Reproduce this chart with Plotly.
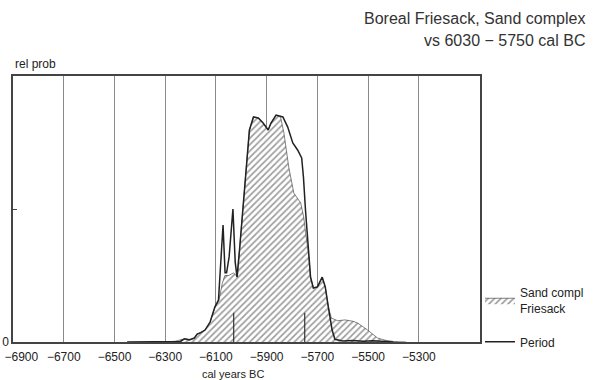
import plotly.graph_objects as go

# --- data ---
hatch_years = [-6300, -6260, -6224, -6200, -6185, -6174, -6160, -6143, -6123, -6104,
               -6088, -6075, -6065, -6050, -6030, -6015, -6007, -5991, -5980, -5968,
               -5952, -5933, -5914, -5894, -5883, -5863, -5845, -5832, -5813, -5793,
               -5766, -5754, -5745, -5735, -5727, -5716, -5700, -5681, -5669, -5657,
               -5645, -5620, -5591, -5560, -5541, -5502, -5463, -5430, -5400, -5350]
hatch_rel = [0, 0.003, 0.012, 0.01, 0.015, 0.03, 0.035, 0.045, 0.075, 0.13,
             0.158, 0.22, 0.25, 0.25, 0.26, 0.244, 0.346, 0.534, 0.684, 0.797,
             0.846, 0.842, 0.823, 0.797, 0.823, 0.853, 0.845, 0.786, 0.658, 0.56,
             0.523, 0.47, 0.40, 0.33, 0.244, 0.203, 0.207, 0.244, 0.207, 0.132,
             0.09, 0.08, 0.083, 0.078, 0.071, 0.045, 0.015, 0.006, 0.002, 0]

line_years = [-6450, -6300, -6260, -6240, -6224, -6205, -6185, -6174, -6160, -6143,
              -6123, -6104, -6090, -6082, -6072, -6064, -6058, -6048, -6040, -6033,
              -6024, -6017, -6007, -5991, -5980, -5968, -5952, -5933, -5914, -5894,
              -5883, -5863, -5836, -5817, -5797, -5778, -5762, -5755, -5747, -5735,
              -5727, -5716, -5700, -5681, -5669, -5657, -5642, -5631, -5600, -5560,
              -5520, -5480, -5440, -5400]
line_rel = [0, 0.001, 0.004, 0.002, 0.012, 0.008, 0.015, 0.03, 0.035, 0.045,
            0.075, 0.132, 0.158, 0.30, 0.44, 0.26, 0.26, 0.32, 0.42, 0.50,
            0.30, 0.244, 0.346, 0.534, 0.684, 0.797, 0.846, 0.842, 0.823, 0.797,
            0.823, 0.853, 0.846, 0.808, 0.748, 0.722, 0.692, 0.62, 0.496, 0.346,
            0.244, 0.203, 0.207, 0.244, 0.207, 0.132, 0.045, 0.01, 0.004, 0.006,
            0.003, 0.005, 0.002, 0]

period_bounds = [-6030, -5750]
period_mark_height = 0.11

tick_years = [-6900, -6700, -6500, -6300, -6100, -5900, -5700, -5500, -5300]
tick_labels = [f"\u2212{abs(v)}" for v in tick_years]
tick_labels[0] = "\u00a0" * 5 + tick_labels[0]   # first label sits right of the axis corner

FONT = "Liberation Sans, Arial, Helvetica, sans-serif"

fig = go.Figure()

fig.add_trace(go.Scatter(
    x=hatch_years, y=hatch_rel, mode="lines", name="Sand compl<br>Friesack",
    legendgroup="a",
    line=dict(color="#333333", width=0.6),
    fill="tozeroy", fillcolor="white",
    fillpattern=dict(shape="/", fgcolor="#3a3a3a", bgcolor="white", size=4.5, solidity=0.38),
))

fig.add_trace(go.Scatter(
    x=line_years, y=line_rel, mode="lines", name="Period",
    legendgroup="b",
    line=dict(color="#222222", width=1.5),
))

px, py = [], []
for b in period_bounds:
    px += [b, b, None]
    py += [0, period_mark_height, None]
fig.add_trace(go.Scatter(x=px, y=py, mode="lines", showlegend=False,
                         line=dict(color="#333333", width=1.2)))

fig.update_layout(
    width=601, height=380,
    margin=dict(l=13, r=114, t=76, b=38),
    paper_bgcolor="white", plot_bgcolor="white",
    font=dict(family=FONT, size=12, color="#222222"),
    showlegend=True,
    legend=dict(x=1.0, y=0.24, xanchor="left", yanchor="top",
                bgcolor="rgba(0,0,0,0)", font=dict(size=12, color="#222222"),
                tracegroupgap=15),
    xaxis=dict(range=[-6900, -5059], tickvals=tick_years, ticktext=tick_labels,
               showgrid=True, gridcolor="#8a8a8a", gridwidth=1.3,
               showline=True, linecolor="#444444", linewidth=1.5, mirror=True,
               ticks="", zeroline=False, tickfont=dict(size=12),
               automargin=False, ticklabelstandoff=3, ticklabeloverflow="allow"),
    yaxis=dict(range=[0, 1], tickvals=[0, 0.5], ticktext=["0", ""],
               ticks="inside", ticklen=4, tickcolor="#444444",
               showgrid=False, zeroline=False,
               showline=True, linecolor="#444444", linewidth=1.5, mirror=True,
               tickfont=dict(size=12), automargin=False, ticklabeloverflow="allow"),
    annotations=[
        dict(text="Boreal Friesack, Sand complex", xref="paper", yref="paper",
             x=1.23, y=1.218, xanchor="right", yanchor="middle", showarrow=False,
             font=dict(size=16, color="#333333")),
        dict(text="vs 6030 \u2212 5750 cal BC", xref="paper", yref="paper",
             x=1.23, y=1.132, xanchor="right", yanchor="middle", showarrow=False,
             font=dict(size=16, color="#333333")),
        dict(text="rel prob", xref="paper", yref="paper", x=0.0, y=1.012,
             xanchor="left", yanchor="bottom", showarrow=False,
             font=dict(size=12, color="#222222")),
        dict(text="cal years BC", xref="paper", yref="paper", x=0.472, y=-0.12,
             xanchor="center", yanchor="middle", showarrow=False,
             font=dict(size=11, color="#222222")),
    ],
)

fig.write_html("out.html")
